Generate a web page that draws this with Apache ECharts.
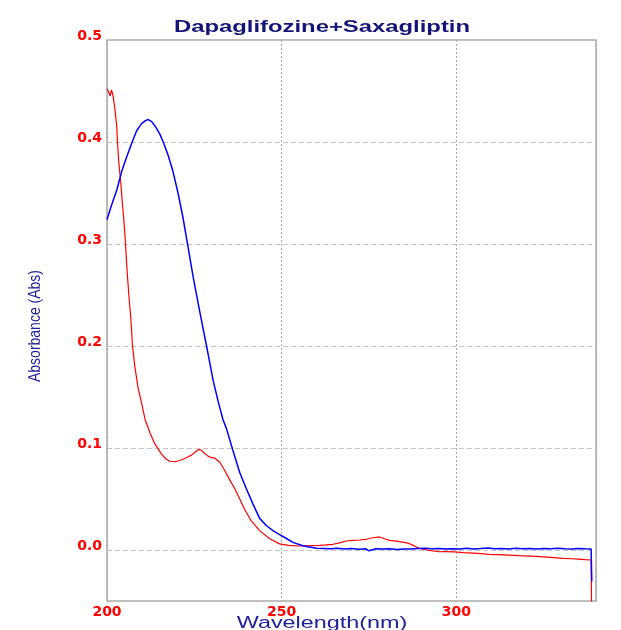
<!DOCTYPE html>
<html>
<head>
<meta charset="utf-8">
<script src="https://cdn.jsdelivr.net/npm/echarts@6/dist/echarts.min.js"></script>
<style>
html,body{margin:0;padding:0;background:#fff;}
#chart{width:621px;height:630px;}
</style>
</head>
<body>
<div id="chart"></div>
<script>
const chartTitle = 'Dapaglifozine+Saxagliptin';
const xName = 'Wavelength(nm)';
const yName = 'Absorbance (Abs)';
const yTickValues = [0, 0.1, 0.2, 0.3, 0.4, 0.5];

const blueX = [200.0,201.3,202.8,204.2,205.6,207.2,208.5,209.9,211.0,211.8,212.8,213.7,215.1,216.1,217.5,218.9,220.4,221.8,223.0,224.7,226.6,228.5,230.4,231.8,233.2,234.2,236.1,238.0,239.9,241.8,243.7,245.6,247.5,249.4,251.0,253.2,256.1,258.0,260.0,262,264,266,268,270,272,274,275,277,279,281,283,285,287,289,291,293,295,297,299,301,303,305,307,309,311,313,315,317,319,321,323,325,327,329,331,333,335,337,338.6,338.8];
const blueY = [0.324,0.338,0.353,0.371,0.385,0.400,0.411,0.418,0.421,0.422,0.420,0.416,0.408,0.400,0.387,0.371,0.349,0.325,0.301,0.267,0.233,0.200,0.166,0.146,0.128,0.119,0.097,0.076,0.060,0.045,0.031,0.024,0.019,0.015,0.012,0.0075,0.0042,0.003,0.0018,0.0015,0.0012,0.0016,0.0010,0.0014,0.0008,0.0013,-0.0008,0.0012,0.0009,0.0013,0.0006,0.0011,0.0009,0.0014,0.0018,0.0012,0.0015,0.0010,0.0013,0.0009,0.0016,0.0011,0.0014,0.0019,0.0012,0.0015,0.0010,0.0017,0.0012,0.0014,0.0009,0.0015,0.0012,0.0018,0.0013,0.0011,0.0015,0.0012,0.0010,-0.031];

const redX = [200.0,200.5,200.9,201.3,201.8,202.3,202.8,203.0,203.4,203.9,204.4,204.9,205.3,205.8,206.3,206.8,207.3,208.0,208.9,209.9,210.9,212.3,213.7,215.6,217.0,218.0,219.4,220.5,221.8,223.0,224.2,225.6,226.3,227.0,227.5,228.9,230.0,230.9,232.3,233.7,235.1,236.6,238.0,239.4,241.3,243.7,246.6,249.4,252.0,255.1,258.0,260.9,262.7,264.7,266.6,268.5,270.4,272.3,274.2,276.1,278.0,279.5,280.9,282.3,283.7,285.1,286.6,288.0,289.4,290.8,292.3,295.1,297.0,299.4,302,305,307,309.4,312,315,318,320.9,323,326,328,330.4,333,335,337,338.6,338.8];
const redY = [0.452,0.449,0.445,0.451,0.444,0.431,0.415,0.400,0.379,0.362,0.340,0.320,0.300,0.271,0.248,0.228,0.200,0.179,0.159,0.144,0.128,0.115,0.104,0.094,0.089,0.087,0.0865,0.0875,0.089,0.091,0.093,0.097,0.0985,0.098,0.096,0.092,0.0905,0.090,0.086,0.078,0.069,0.060,0.050,0.040,0.0285,0.019,0.011,0.006,0.0045,0.0039,0.0042,0.0046,0.0050,0.0056,0.0070,0.0088,0.0095,0.0098,0.0105,0.0120,0.0128,0.0110,0.0095,0.0090,0.0082,0.0075,0.0062,0.0040,0.0017,0.0005,-0.0003,-0.0017,-0.0015,-0.0018,-0.0025,-0.0030,-0.0035,-0.0043,-0.0045,-0.0050,-0.0056,-0.0060,-0.0063,-0.0070,-0.0075,-0.0082,-0.0086,-0.0090,-0.0095,-0.0098,-0.08];

const zip = (xs, ys) => xs.map((x, i) => [x, ys[i]]);

const chart = echarts.init(document.getElementById('chart'), null, {renderer: 'canvas'});
const labelFont = 'DejaVu Sans';
const nameColor = '#20209a';

chart.setOption({
  animation: false,
  backgroundColor: '#ffffff',
  grid: {left: 107, right: 25, top: 40, bottom: 29, show: true, borderColor: '#ababab', borderWidth: 1.5, backgroundColor: 'transparent'},
  xAxis: {
    type: 'value', min: 200, max: 340, interval: 50,
    axisLine: {show: false}, axisTick: {show: false},
    axisLabel: {color: '#ff0000', fontWeight: 'bold', fontFamily: labelFont, fontSize: 14, margin: 4, showMaxLabel: false},
    splitLine: {show: true, lineStyle: {color: '#a8a8a8', type: [2, 2], width: 1}}
  },
  yAxis: {
    type: 'value', min: -0.05, max: 0.5,
    axisLine: {show: false},
    axisTick: {show: false, customValues: yTickValues},
    axisLabel: {customValues: yTickValues, color: '#ff0000', fontWeight: 'bold', fontFamily: labelFont, fontSize: 14, margin: 5, verticalAlign: 'bottom', lineHeight: 8, formatter: v => v.toFixed(1)},
    splitLine: {show: true, lineStyle: {color: '#c4c4c4', type: [5, 3], width: 1}}
  },
  graphic: [
    {type: 'text', x: 322, y: 27.5, scaleX: 1.49, z: 10,
      style: {text: chartTitle, x: 0, y: 0, align: 'center', verticalAlign: 'middle', textAlign: 'center', textVerticalAlign: 'middle', fontFamily: 'Liberation Sans', fontWeight: 'bold', fontSize: 16, fill: '#141478'}},
    {type: 'text', x: 322, y: 616, scaleX: 1.46, z: 10,
      style: {text: xName, x: 0, y: 0, align: 'center', verticalAlign: 'top', textAlign: 'center', textVerticalAlign: 'top', fontFamily: 'Liberation Sans', fontSize: 16, fill: nameColor}},
    {type: 'text', x: 35, y: 326, rotation: Math.PI / 2, scaleY: 1.2, z: 10,
      style: {text: yName, x: 0, y: 0, align: 'center', verticalAlign: 'middle', textAlign: 'center', textVerticalAlign: 'middle', fontFamily: 'Liberation Sans', fontSize: 14, fill: nameColor}}
  ],
  series: [
    {type: 'line', name: 'red', data: zip(redX, redY), showSymbol: false, clip: true, z: 2,
      lineStyle: {color: '#ff0000', width: 1.2}, itemStyle: {color: '#ff0000'}},
    {type: 'line', name: 'blue', data: zip(blueX, blueY), showSymbol: false, clip: true, z: 3,
      lineStyle: {color: '#0000ff', width: 1.5}, itemStyle: {color: '#0000ff'}}
  ]
});
</script>
</body>
</html>
